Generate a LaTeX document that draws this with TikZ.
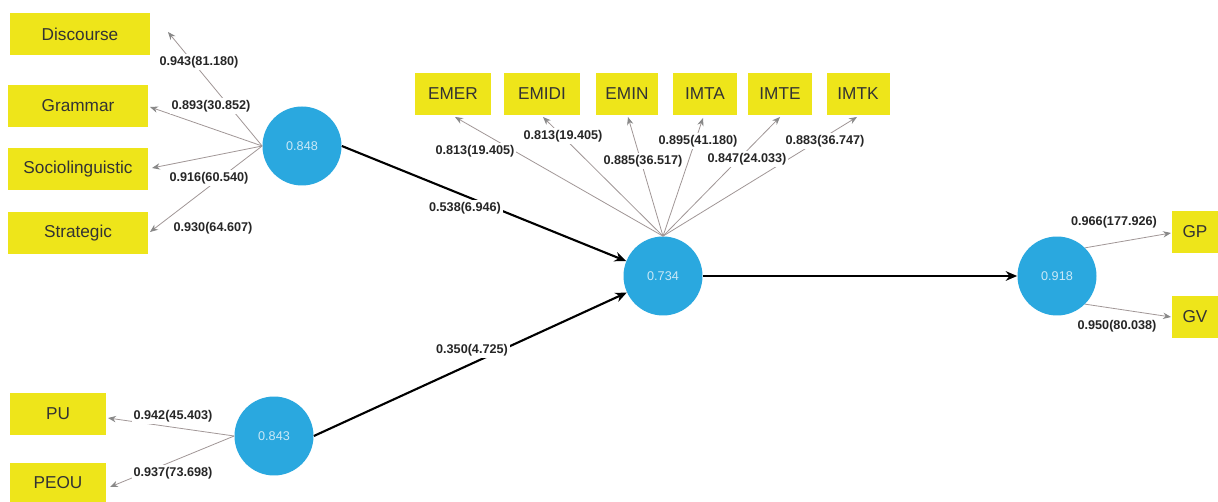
\documentclass[tikz,border=0pt]{standalone}
\usepackage{fontspec}
\setmainfont{Liberation Sans}
\usetikzlibrary{arrows.meta}
\definecolor{indyellow}{HTML}{EEE51A}
\definecolor{latblue}{HTML}{2AA8DF}
\definecolor{loadline}{HTML}{A09696}
\definecolor{loadtip}{HTML}{888888}
\begin{document}
\begin{tikzpicture}[x=0.02cm,y=-0.02cm,
  indicator/.style={fill=indyellow, minimum height=0.84cm, inner sep=0pt,
    font=\fontsize{9.8}{11}\selectfont, text=black!80},
  latent/.style={circle, fill=latblue, minimum size=1.58cm, inner sep=0pt,
    font=\fontsize{7.2}{9}\selectfont, text=white!75!latblue},
  loading/.style={draw=loadline, line width=0.45pt,
    -{Stealth[length=4.5pt,width=3.6pt,color=loadtip]}},
  structural/.style={draw=black, line width=1.2pt,
    -{Stealth[length=6.5pt,width=5.5pt]}},
  coef/.style={fill=white, inner sep=1pt,
    font=\bfseries\fontsize{7.2}{8}\selectfont, text=black!85},
]
\useasboundingbox[fill=white] (0,0) rectangle (1218,502);

% indicators
\node[indicator, minimum width=2.8cm] (dis) at (80,34) {Discourse};
\node[indicator, minimum width=2.8cm] (gra) at (78,106) {Grammar};
\node[indicator, minimum width=2.8cm] (soc) at (78,169) {Sociolinguistic};
\node[indicator, minimum width=2.8cm] (str) at (78,233) {Strategic};

\node[indicator, minimum width=1.54cm] (emer)  at (453,94) {EMER};
\node[indicator, minimum width=1.54cm] (emidi) at (542,94) {EMIDI};
\node[indicator, minimum width=1.26cm] (emin)  at (627,94) {EMIN};
\node[indicator, minimum width=1.28cm] (imta)  at (705,94) {IMTA};
\node[indicator, minimum width=1.28cm] (imte)  at (780,94) {IMTE};
\node[indicator, minimum width=1.26cm] (imtk)  at (858,94) {IMTK};

\node[indicator, minimum width=1.92cm] (pu)   at (58,414) {PU};
\node[indicator, minimum width=1.92cm, minimum height=0.8cm] (peou) at (58,483) {PEOU};

\node[indicator, minimum width=0.92cm] (gp) at (1195,232) {GP};
\node[indicator, minimum width=0.92cm] (gv) at (1195,317) {GV};

% latent variables
\node[latent] (comp) at (302,146) {0.848};
\node[latent] (mot)  at (663,276) {0.734};
\node[latent] (tam)  at (274,436) {0.843};
\node[latent] (gain) at (1057,276) {0.918};

% arrow ends of the loadings
\coordinate (tdis)   at (168,32);
\coordinate (tgra)   at (150,107);
\coordinate (tsoc)   at (152,168);
\coordinate (tstr)   at (150,232);
\coordinate (temer)  at (455,117);
\coordinate (temidi) at (543,117);
\coordinate (temin)  at (628,117);
\coordinate (timta)  at (703,118);
\coordinate (timte)  at (780,117);
\coordinate (timtk)  at (857,117);
\coordinate (tpu)    at (108,418);
\coordinate (tpeou)  at (110,487);
\coordinate (tgp)    at (1171,233);
\coordinate (tgv)    at (1171,317);

% loadings
\foreach \t in {tdis,tgra,tsoc,tstr}
  \draw[loading] (comp.west) -- (\t);
\foreach \t in {temer,temidi,temin,timta,timte,timtk}
  \draw[loading] (mot.north) -- (\t);
\foreach \t in {tpu,tpeou}
  \draw[loading] (tam.west) -- (\t);
\draw[loading] (gain.45) -- (tgp);
\draw[loading] (gain.-45) -- (tgv);

% structural paths
\draw[structural] (comp.east) -- (mot);
\draw[structural] (tam.east) -- (mot);
\draw[structural] (mot.east) -- (gain.west);

% coefficients
\node[coef] (ldis) at (199,62)  {0.943(81.180)};
\node[coef] (lgra) at (211,106) {0.893(30.852)};
\node[coef] (lsoc) at (209,178) {0.916(60.540)};
\node[coef] (lstr) at (213,228) {0.930(64.607)};

\node[coef] (lemer)  at (475,151) {0.813(19.405)};
\node[coef] (lemidi) at (563,136) {0.813(19.405)};
\node[coef] (lemin)  at (643,161) {0.885(36.517)};
\node[coef] (limta)  at (698,141) {0.895(41.180)};
\node[coef] (limte)  at (747,159) {0.847(24.033)};
\node[coef] (limtk)  at (825,141) {0.883(36.747)};

\node[coef] (lpu)   at (173,416) {0.942(45.403)};
\node[coef] (lpeou) at (173,473) {0.937(73.698)};

\node[coef] (lgp) at (1114,222) {0.966(177.926)};
\node[coef] (lgv) at (1117,326) {0.950(80.038)};

\node[coef] (pcomp) at (465,208) {0.538(6.946)};
\node[coef] (ptam)  at (472,350) {0.350(4.725)};
\end{tikzpicture}
\end{document}
